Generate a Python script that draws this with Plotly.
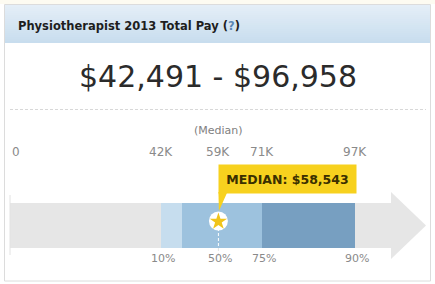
import plotly.graph_objects as go

# ---- data ----
title_text = "Physiotherapist 2013 Total Pay"
range_low = 42491
range_high = 96958
pct_labels = ["10%", "25%", "50%", "75%", "90%"]
pct_values = [42491, 48300, 58543, 70900, 96958]
tick_values = [0, 42491, 58543, 70900, 96958]
tick_labels = ["0", "42K", "59K", "71K", "97K"]
median_value = 58543
track_end = 107300

W, H = 435, 284
X0_PX = 10          # pixel where 0 sits
K = 0.00356         # px per dollar
x_range = [-X0_PX / K, (W - X0_PX) / K]

fig = go.Figure()

def px(x):
    return x / W

def py(y):
    return 1 - y / H

shapes = []
# top cream strip
shapes.append(dict(type="rect", xref="paper", yref="paper", x0=0, x1=1, y0=py(4), y1=1,
                   line=dict(width=0), fillcolor="#fdfbf1", layer="below"))
# outer panel
shapes.append(dict(type="rect", xref="paper", yref="paper", x0=px(4.5), x1=px(430.5), y0=py(281), y1=py(4.5),
                   line=dict(color="#dcdcdc", width=1), fillcolor="white", layer="below"))
# header gradient
top = (0xe4, 0xee, 0xf7)
bot = (0xc8, 0xdd, 0xee)
n = 19
for i in range(n):
    t = i / (n - 1)
    c = tuple(round(top[j] + (bot[j] - top[j]) * t) for j in range(3))
    shapes.append(dict(type="rect", xref="paper", yref="paper", x0=px(5), x1=px(430),
                       y0=py(5 + (i + 1) * 2), y1=py(5 + i * 2),
                       line=dict(width=0), fillcolor="rgb(%d,%d,%d)" % c, layer="below"))
# dashed separator
shapes.append(dict(type="line", xref="paper", yref="paper", x0=px(10), x1=px(426), y0=py(109.5), y1=py(109.5),
                   line=dict(color="#d8d8d8", width=1, dash="3px,2px")))
# gray track
shapes.append(dict(type="rect", xref="x", yref="y", x0=0, x1=track_end, y0=203, y1=248,
                   line=dict(width=0), fillcolor="#e6e6e6", layer="below"))
# arrow head
shapes.append(dict(type="path", xref="x", yref="y", xsizemode="pixel", xanchor=track_end,
                   path="M -1,192 L 34,225.5 L -1,259 Z",
                   line=dict(width=0), fillcolor="#e6e6e6", layer="below"))
# left faint edge
shapes.append(dict(type="line", xref="x", yref="y", x0=0, x1=0, y0=195, y1=255,
                   line=dict(color="#e2e2e2", width=1)))
fig.update_layout(shapes=shapes)

# percentile segments as bars
seg_colors = ["#c6ddee", "#9dc2de", "#9dc2de", "#779fc1"]
for i in range(4):
    fig.add_trace(go.Bar(
        x=[pct_values[i + 1] - pct_values[i]], base=[pct_values[i]], y=[225.5],
        orientation="h", width=45, marker=dict(color=seg_colors[i], line=dict(width=0)),
        hoverinfo="skip", showlegend=False))

# dashed white median line
fig.add_shape(type="line", xref="x", yref="y", x0=median_value, x1=median_value, y0=228, y1=248,
              line=dict(color="white", width=1, dash="3px,2px"))
fig.add_shape(type="line", xref="x", yref="y", x0=median_value, x1=median_value, y0=248, y1=256,
              line=dict(color="#e4e4e4", width=1, dash="3px,2px"))

# pointer triangle
fig.add_shape(type="path", xref="x", yref="y", xsizemode="pixel", xanchor=median_value,
              path="M 0,192 L 9,192 L 0.5,211 Z", line=dict(width=0), fillcolor="#f7d11e")

# star marker
fig.add_trace(go.Scatter(x=[median_value], y=[221], mode="markers",
                         marker=dict(symbol="circle", size=19, color="white", line=dict(width=0)),
                         hoverinfo="skip", showlegend=False))
fig.add_trace(go.Scatter(x=[median_value], y=[221.5], mode="markers",
                         marker=dict(symbol="star", size=13, color="#f0c41b", line=dict(width=0)),
                         hoverinfo="skip", showlegend=False))

ann = []
FONT = "DejaVu Sans"
ann.append(dict(xref="paper", yref="paper", x=px(16), y=py(26), xanchor="left", yanchor="middle",
                text="<b>" + title_text + " (<span style='color:#5b86b3'>?</span>)</b>",
                showarrow=False, font=dict(family=FONT, size=11.5, color="#1e1e1e")))
ann.append(dict(xref="paper", yref="paper", x=px(218), y=py(76.5), xanchor="center", yanchor="middle",
                text="${:,} - ${:,}".format(range_low, range_high),
                showarrow=False, font=dict(family=FONT, size=30, color="#2b2b2b")))
ann.append(dict(xref="x", yref="y", x=median_value, y=130, xanchor="center", yanchor="middle",
                text="(Median)", showarrow=False, font=dict(family=FONT, size=11, color="#808080")))
for v, t in zip(tick_values, tick_labels):
    if v == 0:
        ann.append(dict(xref="x", yref="y", x=v, y=152, xanchor="left", yanchor="middle", xshift=0,
                        text=t, showarrow=False, font=dict(family=FONT, size=12, color="#8a8a8a")))
    else:
        ann.append(dict(xref="x", yref="y", x=v, y=152, xanchor="center", yanchor="middle",
                        text=t, showarrow=False, font=dict(family=FONT, size=12, color="#8a8a8a")))
for v, t in zip(pct_values, pct_labels):
    if t == "25%":
        continue
    ann.append(dict(xref="x", yref="y", x=v, y=258, xanchor="center", yanchor="middle", xshift=2,
                    text=t, showarrow=False, font=dict(family=FONT, size=11, color="#8a8a8a")))
# callout
ann.append(dict(xref="x", yref="y", x=median_value, y=179, xanchor="left", yanchor="middle",
                text="<b>MEDIAN: ${:,}</b>".format(median_value), showarrow=False,
                width=137, height=28, borderpad=0, bgcolor="#f7d11e", align="center",
                font=dict(family=FONT, size=12.5, color="#3a2f00")))
fig.update_layout(annotations=ann)

fig.update_layout(
    width=W, height=H, autosize=False,
    margin=dict(l=0, r=0, t=0, b=0, pad=0),
    paper_bgcolor="white", plot_bgcolor="rgba(0,0,0,0)",
    barmode="overlay", bargap=0,
    xaxis=dict(range=x_range, visible=False, fixedrange=True, domain=[0, 1]),
    yaxis=dict(range=[H, 0], visible=False, fixedrange=True, domain=[0, 1]),
    hovermode=False,
)

fig.write_html("out.html")
